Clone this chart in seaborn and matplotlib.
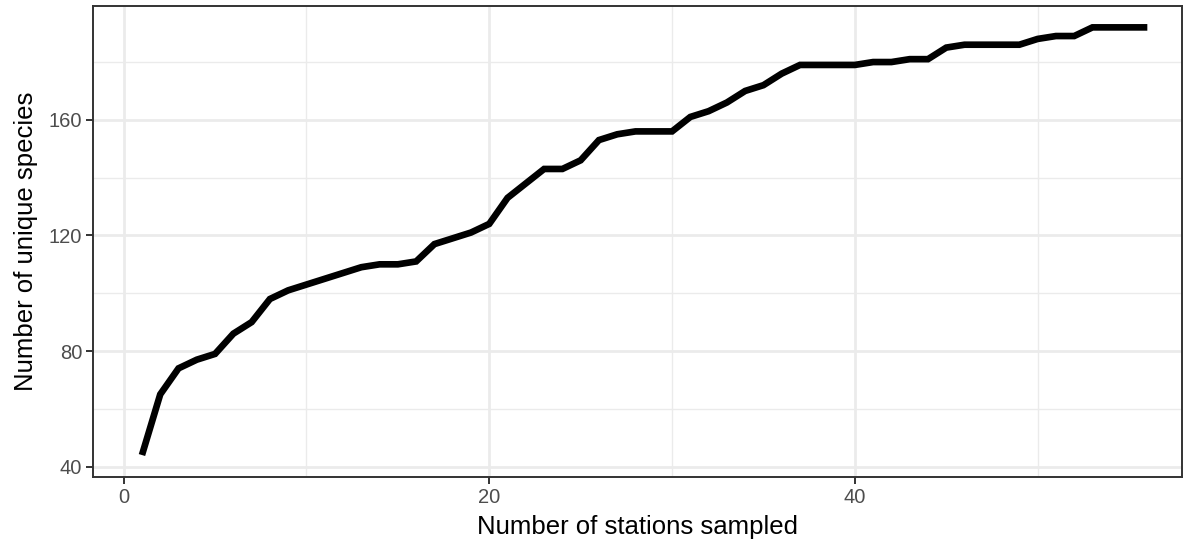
import matplotlib
matplotlib.use("Agg")
import matplotlib.pyplot as plt
from matplotlib.ticker import MultipleLocator
import pandas as pd
import seaborn as sns

# Species accumulation: cumulative unique species per number of stations sampled
stations = list(range(1, 57))
unique_species = [
    44, 65, 74, 77, 79, 86, 90, 98, 101, 103,
    105, 107, 109, 110, 110, 111, 117, 119, 121, 124,
    133, 138, 143, 143, 146, 153, 155, 156, 156, 156,
    161, 163, 166, 170, 172, 176, 179, 179, 179, 179,
    180, 180, 181, 181, 185, 186, 186, 186, 186, 188,
    189, 189, 192, 192, 192, 192,
]
x_ticks = [0, 20, 40]
y_ticks = [40, 80, 120, 160]

df = pd.DataFrame({"stations": stations, "species": unique_species})

sns.set_theme(style="white")
plt.rcParams["font.family"] = ["Liberation Sans", "DejaVu Sans"]

fig = plt.figure(figsize=(11.83, 5.46), dpi=100)
ax = fig.add_axes([0.0789, 0.1269, 0.9203, 0.8616])

sns.lineplot(data=df, x="stations", y="species", ax=ax, color="black",
             linewidth=4.8, solid_capstyle="butt", solid_joinstyle="miter")

ax.set_xlim(-1.66, 57.9)
ax.set_ylim(36.5, 199.3)
ax.set_xticks(x_ticks)
ax.set_yticks(y_ticks)
ax.xaxis.set_minor_locator(MultipleLocator(10))
ax.yaxis.set_minor_locator(MultipleLocator(20))

ax.grid(which="major", color="#EBEBEB", linewidth=2.0)
ax.grid(which="minor", color="#EBEBEB", linewidth=1.0)
ax.set_axisbelow(True)

for side in ax.spines.values():
    side.set_color("#333333")
    side.set_linewidth(1.4)

ax.tick_params(axis="both", which="major", length=5, width=1.4, color="#333333",
               labelcolor="#4D4D4D", labelsize=14.5, pad=3,
               bottom=True, left=True)
ax.tick_params(axis="both", which="minor", length=0)

ax.set_xlabel("Number of stations sampled", fontsize=18.5, color="black", labelpad=6)
ax.set_ylabel("Number of unique species", fontsize=18.5, color="black", labelpad=8)

fig.savefig("out.png", dpi=100)
